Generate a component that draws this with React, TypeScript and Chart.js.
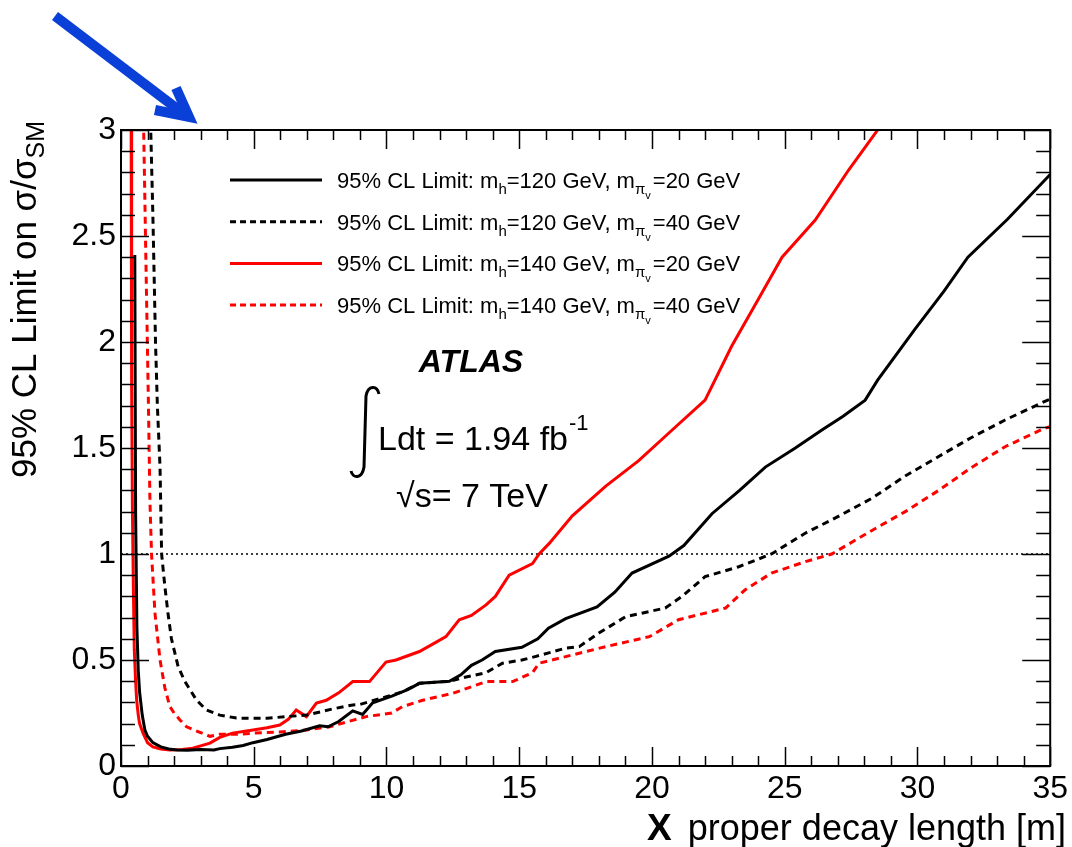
import { useEffect, useRef } from "react";
import { Chart, registerables } from "chart.js";

Chart.register(...registerables);

const FONT = '"Liberation Sans", Arial, Helvetica, sans-serif';

// ---- axis ranges / ticks ----
const X_MIN = 0, X_MAX = 35, X_MAJOR = 5, X_MINOR = 1;
const Y_MIN = 0, Y_MAX = 3, Y_MAJOR = 0.5, Y_MINOR = 0.1;

// ---- legend pieces ----
const MH_VALUES = ["120", "120", "140", "140"];
const MPI_VALUES = ["20", "40", "20", "40"];

// ---- series: mh=120 GeV, mpi=20 GeV (black solid) ----
const x_mh120_mpi20 = [0.52, 0.55, 0.6, 0.65, 0.7, 0.8, 0.9, 1.0, 1.2, 1.5, 1.8, 2.1, 2.5, 3.0, 3.5, 3.72, 4.2, 4.6, 4.97, 5.5, 6.2, 6.8, 7.48, 7.8, 8.2, 8.73, 9.1, 9.48, 10.2, 10.8, 11.24, 12.37, 12.8, 13.2, 13.6, 14.1, 15.1, 15.7, 16.1, 16.75, 17.93, 18.6, 19.25, 20.64, 21.2, 22.26, 23.3, 24.27, 25.4, 26.4, 27.2, 28.03, 28.5, 29.9, 31.0, 31.9, 33.4, 35.0];
const y_mh120_mpi20 = [2.41, 1.2, 0.65, 0.45, 0.35, 0.24, 0.17, 0.14, 0.11, 0.09, 0.08, 0.075, 0.074, 0.078, 0.076, 0.082, 0.088, 0.097, 0.11, 0.125, 0.15, 0.165, 0.19, 0.185, 0.21, 0.26, 0.243, 0.298, 0.33, 0.36, 0.39, 0.40, 0.43, 0.475, 0.5, 0.54, 0.56, 0.6, 0.65, 0.695, 0.75, 0.82, 0.91, 0.99, 1.04, 1.19, 1.30, 1.41, 1.50, 1.585, 1.65, 1.726, 1.82, 2.06, 2.24, 2.40, 2.58, 2.79];

// ---- series: mh=120 GeV, mpi=40 GeV (black dashed) ----
const x_mh120_mpi40 = [1.1, 1.2, 1.3, 1.37, 1.47, 1.53, 1.65, 1.77, 1.9, 2.15, 2.4, 2.6, 2.85, 3.22, 3.72, 4.35, 5.0, 5.5, 6.23, 7.0, 7.5, 8.0, 8.73, 9.0, 10.0, 10.6, 11.24, 12.4, 13.0, 13.75, 14.37, 15.1, 15.6, 16.75, 17.26, 18.0, 19.0, 20.5, 21.13, 22.0, 23.27, 24.5, 25.8, 27.0, 28.3, 29.5, 30.8, 32.0, 33.3, 34.8, 35.0];
const y_mh120_mpi40 = [3.1, 2.6, 2.0, 1.7, 1.41, 1.0, 0.85, 0.72, 0.6, 0.47, 0.4, 0.36, 0.31, 0.264, 0.24, 0.226, 0.225, 0.225, 0.233, 0.24, 0.255, 0.27, 0.288, 0.29, 0.327, 0.35, 0.39, 0.40, 0.42, 0.44, 0.485, 0.5, 0.516, 0.556, 0.563, 0.627, 0.704, 0.745, 0.80, 0.893, 0.94, 1.0, 1.10, 1.176, 1.264, 1.365, 1.46, 1.547, 1.632, 1.72, 1.73];

// ---- series: mh=140 GeV, mpi=20 GeV (red solid) ----
const x_mh140_mpi20 = [0.38, 0.4, 0.43, 0.47, 0.5, 0.55, 0.59, 0.65, 0.7, 0.83, 1.0, 1.2, 1.5, 1.84, 2.3, 2.7, 3.0, 3.35, 3.72, 4.2, 4.97, 5.5, 5.98, 6.3, 6.6, 6.98, 7.36, 7.73, 8.2, 8.73, 9.36, 9.98, 10.36, 11.24, 11.74, 12.24, 12.74, 13.2, 13.75, 14.1, 14.62, 15.5, 15.75, 16.13, 17.0, 18.26, 19.5, 20.76, 22.0, 23.0, 24.0, 24.9, 26.15, 27.4, 28.5, 28.7];
const y_mh140_mpi20 = [3.2, 1.8, 1.2, 0.8, 0.55, 0.4, 0.31, 0.24, 0.2, 0.155, 0.11, 0.09, 0.08, 0.075, 0.078, 0.084, 0.095, 0.108, 0.135, 0.155, 0.17, 0.18, 0.193, 0.22, 0.264, 0.233, 0.297, 0.31, 0.345, 0.398, 0.398, 0.49, 0.5, 0.54, 0.575, 0.61, 0.69, 0.71, 0.76, 0.80, 0.90, 0.955, 1.0, 1.05, 1.18, 1.32, 1.44, 1.585, 1.726, 1.98, 2.2, 2.40, 2.575, 2.81, 3.0, 3.05];

// ---- series: mh=140 GeV, mpi=40 GeV (red dashed) ----
const x_mh140_mpi40 = [0.84, 0.95, 1.03, 1.09, 1.15, 1.28, 1.47, 1.65, 1.84, 2.0, 2.22, 2.47, 2.85, 3.35, 3.72, 4.5, 4.97, 5.98, 6.98, 7.86, 9.23, 10.2, 10.6, 11.36, 12.5, 13.75, 14.75, 15.5, 15.75, 16.75, 18.26, 19.9, 21.0, 22.77, 23.5, 24.5, 25.78, 26.77, 28.27, 29.54, 30.8, 32.0, 33.3, 34.8, 35.0];
const y_mh140_mpi40 = [3.1, 2.3, 1.73, 1.25, 1.0, 0.72, 0.5, 0.37, 0.28, 0.25, 0.217, 0.185, 0.165, 0.14, 0.15, 0.15, 0.155, 0.16, 0.17, 0.185, 0.233, 0.25, 0.28, 0.31, 0.343, 0.398, 0.398, 0.44, 0.485, 0.516, 0.563, 0.61, 0.69, 0.745, 0.83, 0.91, 0.964, 1.0, 1.11, 1.20, 1.30, 1.405, 1.506, 1.594, 1.60];

// ---- reference line ----
const x_ref = [0, 35];
const y_ref = [1, 1];

const pts = (xs: number[], ys: number[]) => xs.map((x, i) => ({ x, y: ys[i] }));

function drawRich(ctx: CanvasRenderingContext2D, x: number, y: number, mh: string, mpi: string) {
  const big = `22px ${FONT}`;
  const sub = `15px ${FONT}`;
  const sub2 = `11px ${FONT}`;
  ctx.textAlign = "left";
  ctx.textBaseline = "alphabetic";
  let cx = x;
  const put = (t: string, f: string, dy: number) => {
    ctx.font = f;
    ctx.fillText(t, cx, y + dy);
    cx += ctx.measureText(t).width;
  };
  put("95% CL Limit: m", big, 0);
  put("h", sub, 6);
  put(`=${mh} GeV, m`, big, 0);
  put("π", sub, 6);
  put("v", sub2, 11);
  cx += 2;
  put(`=${mpi} GeV`, big, 0);
}

const decorPlugin = {
  id: "decor",
  afterDatasetsDraw(chart: any) {
    const ctx: CanvasRenderingContext2D = chart.ctx;
    const a = chart.chartArea;
    const xs = chart.scales.x;
    const ys = chart.scales.y;
    ctx.save();
    ctx.strokeStyle = "#000";
    ctx.lineWidth = 1.5;
    const line = (x1: number, y1: number, x2: number, y2: number) => {
      ctx.beginPath();
      ctx.moveTo(x1, y1);
      ctx.lineTo(x2, y2);
      ctx.stroke();
    };
    // x ticks (inside, bottom & top)
    const nx = Math.round((X_MAX - X_MIN) / X_MINOR);
    for (let i = 0; i <= nx; i++) {
      const v = X_MIN + i * X_MINOR;
      const px = Math.round(xs.getPixelForValue(v)) + 0.5;
      const r = v / X_MAJOR;
      const major = Math.abs(r - Math.round(r)) < 1e-6;
      const len = major ? 19 : 10;
      line(px, a.bottom, px, a.bottom - len);
      line(px, a.top, px, a.top + len);
    }
    const ny = Math.round((Y_MAX - Y_MIN) / Y_MINOR);
    for (let i = 0; i <= ny; i++) {
      const v = Y_MIN + i * Y_MINOR;
      const py = Math.round(ys.getPixelForValue(v)) + 0.5;
      const r = v / Y_MAJOR;
      const major = Math.abs(r - Math.round(r)) < 1e-6;
      const len = major ? 28 : 14;
      line(a.left, py, a.left + len, py);
      line(a.right, py, a.right - len, py);
    }
    // frame
    ctx.lineWidth = 2;
    ctx.strokeRect(a.left, a.top, a.right - a.left, a.bottom - a.top);

    // legend
    const ds = chart.data.datasets;
    for (let i = 0; i < 4; i++) {
      const d = ds[i];
      const yc = a.top + 50 + i * 41.7;
      ctx.save();
      ctx.strokeStyle = d.borderColor;
      ctx.lineWidth = 3;
      ctx.setLineDash(d.borderDash ? [6, 4] : []);
      line(230, yc, 322, yc);
      ctx.restore();
      ctx.fillStyle = "#000";
      drawRich(ctx, 337, yc + 8, MH_VALUES[i], MPI_VALUES[i]);
    }

    // ATLAS label
    ctx.fillStyle = "#000";
    ctx.textAlign = "center";
    ctx.textBaseline = "alphabetic";
    ctx.font = `italic bold 32px ${FONT}`;
    ctx.fillText("ATLAS", 471, 372);

    // integral sign
    ctx.lineWidth = 3;
    ctx.beginPath();
    ctx.moveTo(379, 394);
    ctx.bezierCurveTo(377, 385, 368, 385, 366, 396);
    ctx.lineTo(364, 467);
    ctx.bezierCurveTo(362, 479, 353, 479, 351, 471);
    ctx.stroke();

    ctx.textAlign = "left";
    ctx.font = `34px ${FONT}`;
    const lumi = "Ldt = 1.94 fb";
    ctx.fillText(lumi, 378, 450);
    const lw = ctx.measureText(lumi).width;
    ctx.font = `22px ${FONT}`;
    ctx.fillText("-1", 378 + lw + 1, 430);
    ctx.font = `34px ${FONT}`;
    ctx.fillText("√s= 7 TeV", 396, 507);

    // y-axis title (rotated, right-aligned to the top)
    ctx.save();
    ctx.translate(36, 121);
    ctx.rotate(-Math.PI / 2);
    ctx.font = `35px ${FONT}`;
    const t1 = "95% CL Limit on σ/σ";
    const w1 = ctx.measureText(t1).width;
    ctx.font = `25px ${FONT}`;
    const w2 = ctx.measureText("SM").width;
    ctx.font = `35px ${FONT}`;
    ctx.fillText(t1, -(w1 + w2), 0);
    ctx.font = `25px ${FONT}`;
    ctx.fillText("SM", -w2, 8);
    ctx.restore();

    // x-axis title (right-aligned)
    ctx.textAlign = "right";
    ctx.font = `36px ${FONT}`;
    const t2 = "proper decay length [m]";
    ctx.fillText(t2, 1066, 840);
    const w3 = ctx.measureText(t2).width;
    ctx.font = `bold 37px ${FONT}`;
    ctx.fillText("X", 1066 - w3 - 16, 840);

    // blue arrow
    ctx.strokeStyle = "#0a3fd8";
    ctx.lineWidth = 10;
    ctx.lineCap = "butt";
    ctx.lineJoin = "miter";
    line(55, 16, 184, 114);
    ctx.beginPath();
    ctx.moveTo(155, 110);
    ctx.lineTo(189, 117);
    ctx.lineTo(176, 88);
    ctx.stroke();
    ctx.restore();
  },
};

export default function App() {
  const ref = useRef<HTMLCanvasElement | null>(null);
  useEffect(() => {
    document.body.style.margin = "0";
    const canvas = ref.current;
    if (!canvas) return;
    const chart = new Chart(canvas, {
      type: "line",
      data: {
        datasets: [
          { label: "95% CL Limit: mh=120 GeV, mπv=20 GeV", data: pts(x_mh120_mpi20, y_mh120_mpi20), borderColor: "#000000", borderWidth: 3 },
          { label: "95% CL Limit: mh=120 GeV, mπv=40 GeV", data: pts(x_mh120_mpi40, y_mh120_mpi40), borderColor: "#000000", borderWidth: 3, borderDash: [7, 5] },
          { label: "95% CL Limit: mh=140 GeV, mπv=20 GeV", data: pts(x_mh140_mpi20, y_mh140_mpi20), borderColor: "#ff0000", borderWidth: 3 },
          { label: "95% CL Limit: mh=140 GeV, mπv=40 GeV", data: pts(x_mh140_mpi40, y_mh140_mpi40), borderColor: "#ff0000", borderWidth: 3, borderDash: [7, 5] },
          { label: "ref", data: pts(x_ref, y_ref), borderColor: "#000000", borderWidth: 1.5, borderDash: [2, 3] },
        ] as any,
      },
      options: {
        responsive: false,
        animation: false,
        devicePixelRatio: 1,
        layout: { padding: { top: 130, right: 20, left: 0, bottom: 0 } },
        plugins: { legend: { display: false }, tooltip: { enabled: false } },
        elements: { point: { radius: 0 }, line: { tension: 0 } },
        scales: {
          x: {
            type: "linear",
            min: X_MIN,
            max: X_MAX,
            ticks: { stepSize: X_MAJOR, color: "#000", font: { family: FONT, size: 32 }, padding: 4, maxRotation: 0, autoSkip: false },
            grid: { display: false, drawTicks: false },
            border: { display: false },
            afterFit: (s: any) => { s.height = 81; },
          },
          y: {
            type: "linear",
            min: Y_MIN,
            max: Y_MAX,
            ticks: { stepSize: Y_MAJOR, color: "#000", font: { family: FONT, size: 32 }, padding: 5, callback: (v: any) => String(Number(v)) },
            grid: { display: false, drawTicks: false },
            border: { display: false },
            afterFit: (s: any) => { s.width = 121; },
          },
        },
      } as any,
      plugins: [decorPlugin],
    });
    return () => chart.destroy();
  }, []);
  return (
    <div style={{ width: 1072, height: 847, background: "#fff" }}>
      <canvas ref={ref} width={1072} height={847} style={{ display: "block" }} />
    </div>
  );
}
